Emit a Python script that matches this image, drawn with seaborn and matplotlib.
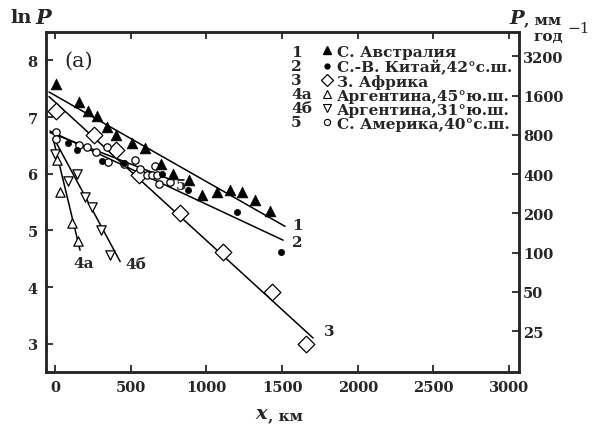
import numpy as np
import pandas as pd
import matplotlib
matplotlib.use("Agg")
import matplotlib.pyplot as plt
from matplotlib.lines import Line2D
import seaborn as sns

# ---------------- data ----------------
x1 = [7, 159, 218, 278, 344, 403, 509, 595, 701, 780, 886, 972, 1071, 1157, 1236, 1322, 1421]
y1 = [7.59, 7.26, 7.10, 7.01, 6.82, 6.68, 6.55, 6.45, 6.17, 6.00, 5.88, 5.62, 5.67, 5.71, 5.67, 5.53, 5.34]

x2 = [86, 145, 311, 456, 707, 879, 1203, 1494]
y2 = [6.55, 6.41, 6.22, 6.18, 5.99, 5.71, 5.32, 4.61]

x3 = [7, 258, 403, 555, 826, 1110, 1434, 1659]
y3 = [7.10, 6.68, 6.41, 5.97, 5.30, 4.61, 3.91, 2.99]

x4a = [13, 33, 112, 152]
y4a = [6.24, 5.67, 5.13, 4.81]

x4b = [0, 86, 145, 198, 245, 304, 364]
y4b = [6.34, 5.87, 5.99, 5.58, 5.42, 5.00, 4.56]

x5 = [7, 7, 159, 211, 271, 344, 350, 456, 529, 562, 608, 641, 661, 674, 687, 760]
y5 = [6.73, 6.62, 6.50, 6.47, 6.38, 6.47, 6.20, 6.17, 6.24, 6.08, 5.97, 5.97, 6.13, 5.97, 5.81, 5.85]

# fitted lines: name, x start, x end, intercept (at x=0), slope
fit_names = ["1", "2", "3", "4a", "4б", "5"]
fit_x0 = [-40, -33, -40, -13, -7, -33]
fit_x1 = [1520, 1507, 1705, 165, 430, 780]
fit_b = [7.38, 6.71, 7.262, 6.476, 6.586, 6.69]
fit_k = [-0.00152, -0.00125, -0.002441, -0.01107, -0.00497, -0.00104]

# line end labels: text, x, y
lab_text = ["1", "2", "3", "4a", "4б", "5"]
lab_x = [1565, 1565, 1775, 119, 463, 800]
lab_y = [5.09, 4.80, 3.22, 4.42, 4.40, 5.80]

legend_nums = ["1", "2", "3", "4a", "4б", "5"]
legend_txt = ["С. Австралия", "С.-В. Китай,42°с.ш.", "З. Африка",
              "Аргентина,45°ю.ш.", "Аргентина,31°ю.ш.", "С. Америка,40°с.ш."]

xticks = [0, 500, 1000, 1500, 2000, 2500, 3000]
yticks = [3, 4, 5, 6, 7, 8]
rticks = [25, 50, 100, 200, 400, 800, 1600, 3200]

# ---------------- style ----------------
sns.set_style("ticks")
SERIF = ["DejaVu Serif"]
plt.rcParams["font.family"] = SERIF
plt.rcParams["font.weight"] = "bold"

W, H = 604, 439
fig = plt.figure(figsize=(W / 100, H / 100), dpi=100)
L, R, T, B = 46, 519, 33, 373
ax = fig.add_axes([L / W, 1 - B / H, (R - L) / W, (B - T) / H])

def px(x, y):
    return x / W, 1 - y / H

# lines
rows = []
for n, a, b_, c, k in zip(fit_names, fit_x0, fit_x1, fit_b, fit_k):
    for xv in (a, b_):
        rows.append({"line": n, "x": xv, "y": c + k * xv})
lines_df = pd.DataFrame(rows)
for n in fit_names:
    sns.lineplot(data=lines_df[lines_df.line == n], x="x", y="y", color="black",
                 lw=1.1, ax=ax, legend=False, sort=False)

# scatter series
def sc(x, y, marker, s, face, lw=0.9):
    sns.scatterplot(x=x, y=y, marker=marker, s=s, facecolor=face,
                    edgecolor="black", linewidth=lw, ax=ax, legend=False, zorder=3)

sc(x3, y3, "D", 72, "white")
sc(x5, y5, "o", 28, "white")
sc(x2, y2, "o", 20, "black", 0.5)
sc(x4a, y4a, "^", 45, "white")
sc(x4b, y4b, "v", 45, "white")
sc(x1, y1, "^", 60, "black", 0.5)

for t, xv, yv in zip(lab_text, lab_x, lab_y):
    ax.text(xv, yv, t, fontsize=11, fontweight="bold", ha="left", va="center")

ax.text(60, 8.0, "(a)", fontsize=15, fontweight="normal", ha="left", va="center")

ax.set_xlim(-60, 3066)
ax.set_ylim(2.5, 8.5)
ax.set_xticks(xticks)
ax.set_yticks(yticks)
ax.set_xlabel("")
ax.set_ylabel("")
ax.tick_params(direction="in", length=5, width=1.3, labelsize=10.5, top=True,
               pad=6)
for lab in ax.get_xticklabels() + ax.get_yticklabels():
    lab.set_fontweight("bold")
for sp in ax.spines.values():
    sp.set_linewidth(1.8)
    sp.set_visible(True)

ax2 = ax.twinx()
ax2.set_ylim(ax.get_ylim())
ax2.set_yticks(np.log(rticks))
ax2.set_yticklabels([str(v) for v in rticks], fontweight="bold")
ax2.tick_params(direction="in", length=5, width=1.3, labelsize=10.5, pad=3)
for sp in ax2.spines.values():
    sp.set_linewidth(1.8)

# legend: number column + marker/text column
num_handles = [Line2D([], [], linestyle="none") for _ in legend_nums]
mk_handles = [
    Line2D([], [], marker="^", ls="none", mfc="black", mec="black", ms=6),
    Line2D([], [], marker="o", ls="none", mfc="black", mec="black", ms=3.5),
    Line2D([], [], marker="D", ls="none", mfc="white", mec="black", ms=6.5, mew=0.9),
    Line2D([], [], marker="^", ls="none", mfc="white", mec="black", ms=5.5, mew=0.8),
    Line2D([], [], marker="v", ls="none", mfc="white", mec="black", ms=5.5, mew=0.8),
    Line2D([], [], marker="o", ls="none", mfc="white", mec="black", ms=4.5, mew=0.8),
]
leg = ax.legend(num_handles + mk_handles, legend_nums + legend_txt, ncol=2,
                loc="upper right", bbox_to_anchor=(1.005, 0.99), frameon=False,
                handlelength=0.7, handletextpad=0.3, columnspacing=0.6,
                labelspacing=0.0, borderaxespad=0.2,
                prop={"family": SERIF, "weight": "bold", "size": 11.1})

# axis titles
fig.text(*px(10, 18), "ln", fontsize=14, fontweight="bold", ha="left", va="center")
fig.text(*px(35, 18), "P", fontsize=15, fontweight="bold", style="italic", ha="left", va="center")
fig.text(*px(509, 19), "P", fontsize=14, fontweight="bold", style="italic", ha="left", va="center")
fig.text(*px(524, 20), ", мм", fontsize=11, fontweight="bold", ha="left", va="center")
fig.text(*px(533, 37), "год", fontsize=11, fontweight="bold", ha="left", va="center")
fig.text(*px(567, 29), "−1", fontsize=11, fontweight="normal", ha="left", va="center")
fig.text(*px(255, 414), "x", fontsize=14, fontweight="bold", style="italic", ha="left", va="center")
fig.text(*px(268, 416), ", км", fontsize=11, fontweight="bold", ha="left", va="center")

fig.savefig("out.png", dpi=100)
